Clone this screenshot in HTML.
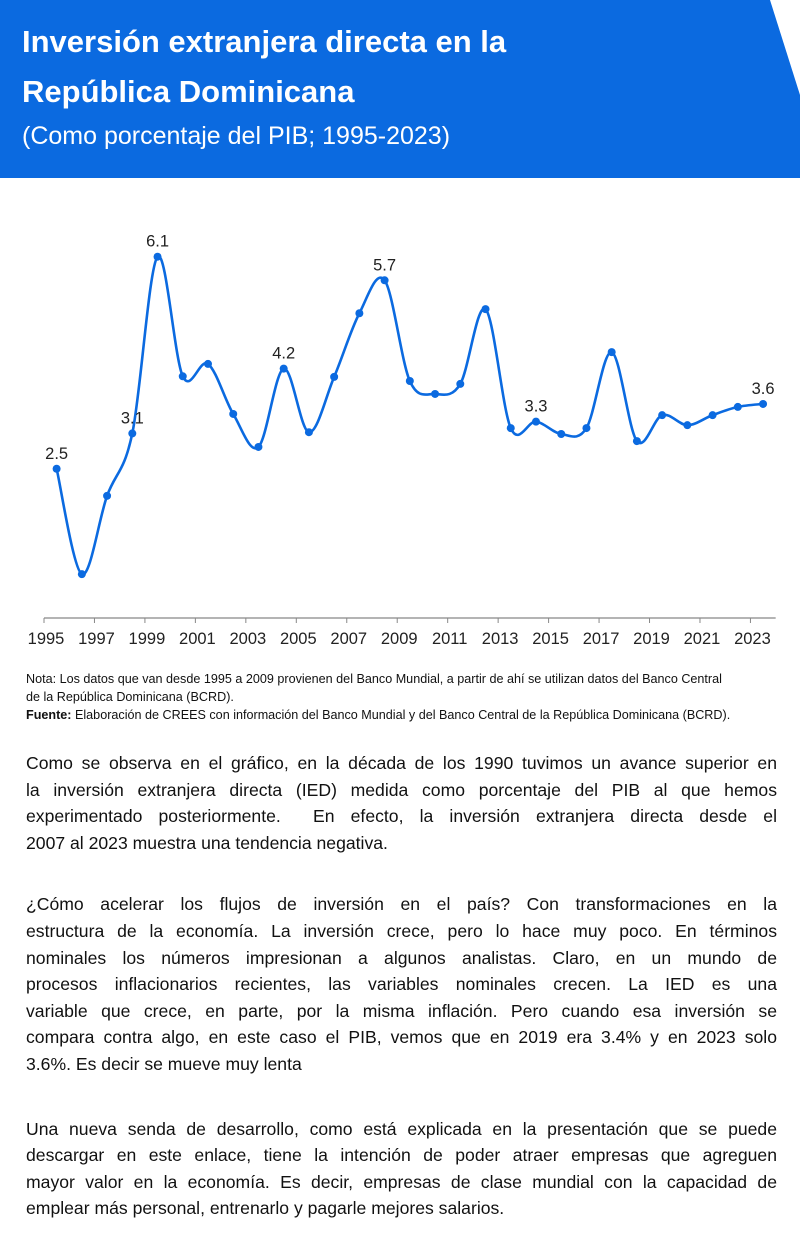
<!DOCTYPE html>
<html><head><meta charset="utf-8"><style>
body{margin:0;width:800px;height:1253px;background:#fff;font-family:"Liberation Sans",sans-serif;overflow:hidden;position:relative}
.hdr{position:absolute;left:0;top:0;width:800px;height:178px;background:#0b6ae0;clip-path:polygon(0 0,770px 0,800px 95px,800px 178px,0 178px)}
.t{position:absolute;left:22px;color:#fff;font-weight:bold;font-size:31px}
.sub{position:absolute;left:22px;top:122px;color:#fff;font-size:25px}
.note{position:absolute;left:26px;top:670px;width:760px;font-size:12.6px;line-height:18px;color:#111;white-space:nowrap}
.body{position:absolute;left:26px;top:750px;width:751px;font-size:17.6px;line-height:26.6px;color:#111}
.body div{white-space:nowrap;text-align:justify;text-align-last:justify}
.body div.l{text-align-last:left}
</style></head><body>
<div class="hdr"></div>
<div class="t" style="top:24px">Inversión extranjera directa en la</div>
<div class="t" style="top:74px">República Dominicana</div>
<div class="sub">(Como porcentaje del PIB; 1995-2023)</div>
<svg id="chart" width="800" height="660" style="position:absolute;left:0;top:0"></svg>
<div class="note">Nota: Los datos que van desde 1995 a 2009 provienen del Banco Mundial, a partir de ahí se utilizan datos del Banco Central<br>de la República Dominicana (BCRD).<br><b>Fuente:</b> Elaboración de CREES con información del Banco Mundial y del Banco Central de la República Dominicana (BCRD).</div>
<div class="body">
<div>Como se observa en el gráfico, en la década de los 1990 tuvimos un avance superior en</div>
<div>la inversión extranjera directa (IED) medida como porcentaje del PIB al que hemos</div>
<div>experimentado posteriormente.&nbsp; En efecto, la inversión extranjera directa desde el</div>
<div class="l">2007 al 2023 muestra una tendencia negativa.</div>
<div style="margin-top:35px">¿Cómo acelerar los flujos de inversión en el país? Con transformaciones en la</div>
<div>estructura de la economía. La inversión crece, pero lo hace muy poco. En términos</div>
<div>nominales los números impresionan a algunos analistas. Claro, en un mundo de</div>
<div>procesos inflacionarios recientes, las variables nominales crecen. La IED es una</div>
<div>variable que crece, en parte, por la misma inflación. Pero cuando esa inversión se</div>
<div>compara contra algo, en este caso el PIB, vemos que en 2019 era 3.4% y en 2023 solo</div>
<div class="l">3.6%. Es decir se mueve muy lenta</div>
<div style="margin-top:38px">Una nueva senda de desarrollo, como está explicada en la presentación que se puede</div>
<div>descargar en este enlace, tiene la intención de poder atraer empresas que agreguen</div>
<div>mayor valor en la economía. Es decir, empresas de clase mundial con la capacidad de</div>
<div class="l">emplear más personal, entrenarlo y pagarle mejores salarios.</div>
</div>
<script>
const years=[1995,1996,1997,1998,1999,2000,2001,2002,2003,2004,2005,2006,2007,2008,2009,2010,2011,2012,2013,2014,2015,2016,2017,2018,2019,2020,2021,2022,2023];
const values=[2.5,0.71,2.04,3.1,6.1,4.07,4.28,3.43,2.87,4.2,3.12,4.06,5.14,5.7,3.99,3.77,3.94,5.21,3.19,3.3,3.09,3.19,4.48,2.97,3.41,3.24,3.41,3.55,3.6];
const labeledYears=[1995,1998,1999,2004,2008,2014,2023];
const tickLabels=[1995,1997,1999,2001,2003,2005,2007,2009,2011,2013,2015,2017,2019,2021,2023];
const svg=document.getElementById('chart');const NS='http://www.w3.org/2000/svg';
const x0=44,bw=25.23,y0=618,ys=58.9;
const xb=i=>x0+i*bw, xc=i=>x0+(i+0.5)*bw, y=v=>y0-2-v*ys;
function mk(t,a){const e=document.createElementNS(NS,t);for(const k in a)e.setAttribute(k,a[k]);svg.appendChild(e);return e;}
const ax=mk('line',{x1:x0,x2:xb(years.length),y1:y0,y2:y0,stroke:'#888','stroke-width':1.3});


tickLabels.forEach(yr=>{const i=years.indexOf(yr);
const tk=mk('line',{x1:xb(i),x2:xb(i),y1:y0,y2:y0+5,stroke:'#888'});


const t=mk('text',{x:xb(i)+2,y:y0+26,'text-anchor':'middle','font-size':16.5,fill:'#222','font-family':'Liberation Sans'});t.textContent=yr;

});
const P=values.map((v,i)=>[xc(i),y(v)]);
let d='M'+P[0][0]+','+P[0][1];
for(let i=0;i<P.length-1;i++){const p0=P[i-1]||P[i],p1=P[i],p2=P[i+1],p3=P[i+2]||p2;
d+=`C${p1[0]+(p2[0]-p0[0])/6},${p1[1]+(p2[1]-p0[1])/6} ${p2[0]-(p3[0]-p1[0])/6},${p2[1]-(p3[1]-p1[1])/6} ${p2[0]},${p2[1]}`;}
const ln=mk('path',{d:d,fill:'none',stroke:'#0b6ae0','stroke-width':2.6});


P.forEach((p,i)=>{const c=mk('circle',{cx:p[0],cy:p[1],r:4,fill:'#0b6ae0'});


if(labeledYears.includes(years[i])){const t=mk('text',{x:p[0],y:p[1]-10,'text-anchor':'middle','font-size':16.5,fill:'#222','font-family':'Liberation Sans'});t.textContent=values[i].toFixed(1);

}});
</script>
</body></html>
